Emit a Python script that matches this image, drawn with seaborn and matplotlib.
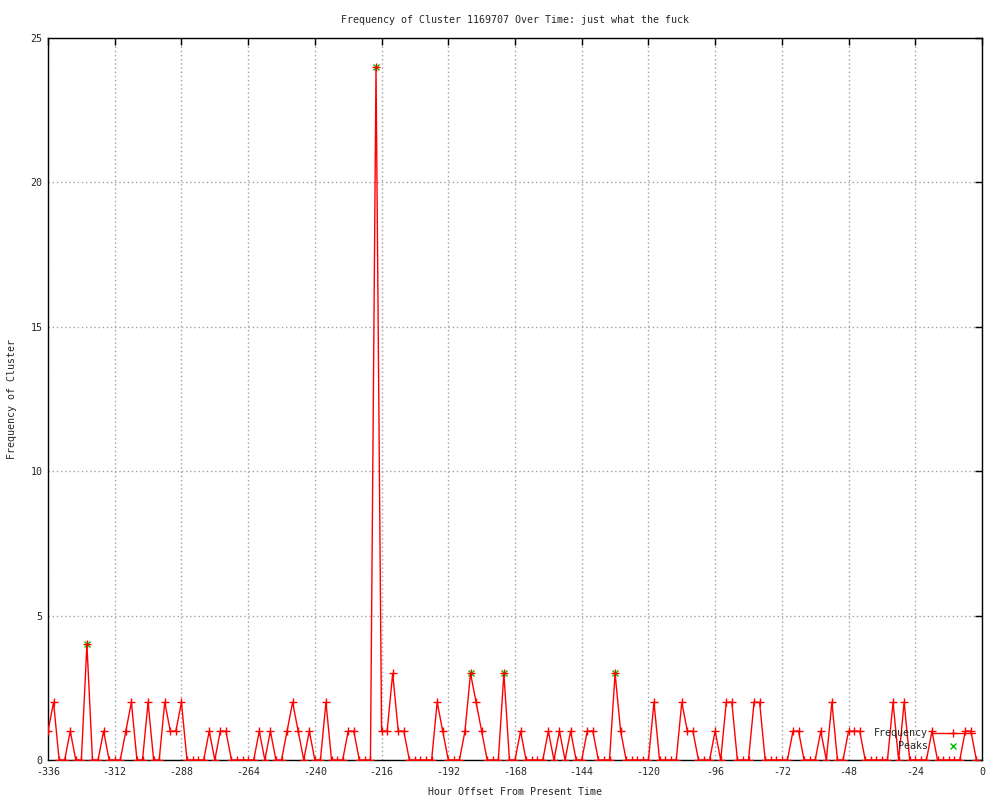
import matplotlib
matplotlib.use("Agg")
import matplotlib.pyplot as plt
import seaborn as sns
import pandas as pd

# hourly offsets (2h bins) and cluster counts
hours = [
    -336, -334, -332, -330, -328, -326, -324, -322, -320, -318, -316, -314,
    -312, -310, -308, -306, -304, -302, -300, -298, -296, -294, -292, -290,
    -288, -286, -284, -282, -280, -278, -276, -274, -272, -270, -268, -266,
    -264, -262, -260, -258, -256, -254, -252, -250, -248, -246, -244, -242,
    -240, -238, -236, -234, -232, -230, -228, -226, -224, -222, -220, -218,
    -216, -214, -212, -210, -208, -206, -204, -202, -200, -198, -196, -194,
    -192, -190, -188, -186, -184, -182, -180, -178, -176, -174, -172, -170,
    -168, -166, -164, -162, -160, -158, -156, -154, -152, -150, -148, -146,
    -144, -142, -140, -138, -136, -134, -132, -130, -128, -126, -124, -122,
    -120, -118, -116, -114, -112, -110, -108, -106, -104, -102, -100, -98,
    -96, -94, -92, -90, -88, -86, -84, -82, -80, -78, -76, -74,
    -72, -70, -68, -66, -64, -62, -60, -58, -56, -54, -52, -50,
    -48, -46, -44, -42, -40, -38, -36, -34, -32, -30, -28, -26,
    -24, -22, -20, -18, -16, -14, -12, -10, -8, -6, -4, -2,
]
frequency = [
    1, 2, 0, 0, 1, 0, 0, 4, 0, 0, 1, 0,
    0, 0, 1, 2, 0, 0, 2, 0, 0, 2, 1, 1,
    2, 0, 0, 0, 0, 1, 0, 1, 1, 0, 0, 0,
    0, 0, 1, 0, 1, 0, 0, 1, 2, 1, 0, 1,
    0, 0, 2, 0, 0, 0, 1, 1, 0, 0, 0, 24,
    1, 1, 3, 1, 1, 0, 0, 0, 0, 0, 2, 1,
    0, 0, 0, 1, 3, 2, 1, 0, 0, 0, 3, 0,
    0, 1, 0, 0, 0, 0, 1, 0, 1, 0, 1, 0,
    0, 1, 1, 0, 0, 0, 3, 1, 0, 0, 0, 0,
    0, 2, 0, 0, 0, 0, 2, 1, 1, 0, 0, 0,
    1, 0, 2, 2, 0, 0, 0, 2, 2, 0, 0, 0,
    0, 0, 1, 1, 0, 0, 0, 1, 0, 2, 0, 0,
    1, 1, 1, 0, 0, 0, 0, 0, 2, 0, 2, 0,
    0, 0, 0, 1, 0, 0, 0, 0, 0, 1, 1, 0,
]
peak_hours = [-322, -218, -184, -172, -132]
peak_values = [4, 24, 3, 3, 3]

xticks = [-336, -312, -288, -264, -240, -216, -192, -168, -144, -120, -96, -72, -48, -24, 0]
yticks = [0, 5, 10, 15, 20, 25]

sns.set_theme(style="white")
plt.rcParams['font.family'] = ['DejaVu Sans Mono', 'DejaVu Sans']
plt.rcParams['axes.unicode_minus'] = False

df = pd.DataFrame({'hour': hours, 'freq': frequency})
peaks = pd.DataFrame({'hour': peak_hours, 'freq': peak_values})

fig = plt.figure(figsize=(10, 8), dpi=100)
ax = fig.add_axes([0.048, 0.05, 0.934, 0.9025])

sns.lineplot(data=df, x='hour', y='freq', ax=ax, color='red', linewidth=1,
             marker='+', markersize=6, markeredgecolor='red', markeredgewidth=1,
             label='Frequency', zorder=3)
# peaks sit under the red line so the + shows through the x
sns.lineplot(data=peaks, x='hour', y='freq', ax=ax, color='#00c000', linestyle='',
             marker='x', markersize=5, markeredgecolor='#00c000', markeredgewidth=1,
             label='Peaks', zorder=2.5)

ax.set_xlim(-336, 0)
ax.set_ylim(0, 25)
ax.set_xticks(xticks)
ax.set_yticks(yticks)
ax.grid(True, color='#a0a0a0', linestyle=(0, (1, 2)), linewidth=1)
ax.set_axisbelow(True)
for s in ax.spines.values():
    s.set_color('black')
    s.set_linewidth(1)
ax.tick_params(direction='in', length=5, width=1, color='black', labelsize=7.2,
               top=True, right=True, pad=5)
ax.tick_params(axis='y', pad=4)

ax.set_title('Frequency of Cluster 1169707 Over Time: just what the fuck', fontsize=7.2, pad=11)
ax.set_xlabel('Hour Offset From Present Time', fontsize=7.2, labelpad=7)
ax.set_ylabel('Frequency of Cluster', fontsize=7.2, labelpad=10)

ax.legend(loc='lower right', bbox_to_anchor=(0.998, 0.005), frameon=False, markerfirst=False,
          fontsize=7.2, handlelength=4.4, handletextpad=0.3, labelspacing=0.3,
          borderpad=0, numpoints=1)

fig.savefig('out.png', dpi=100)
